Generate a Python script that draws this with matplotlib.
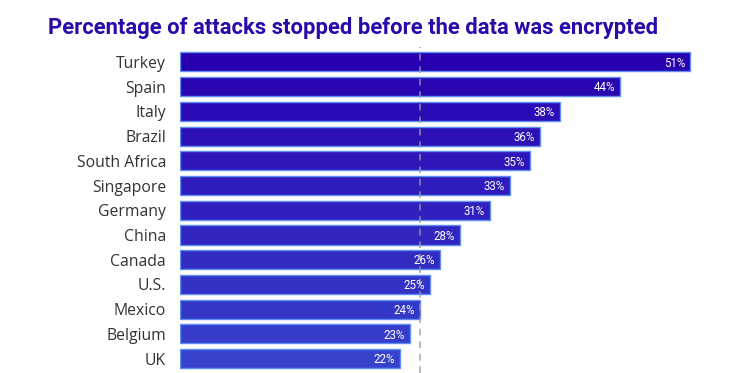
import matplotlib.pyplot as plt
import matplotlib.colors as mcolors
import numpy as np

countries = ["Turkey", "Spain", "Italy", "Brazil", "South Africa", "Singapore",
             "Germany", "China", "Canada", "U.S.", "Mexico", "Belgium", "UK"]
values = [51, 44, 38, 36, 35, 33, 31, 28, 26, 25, 24, 23, 22]
avg_value = 24

fig = plt.figure(figsize=(7.37, 3.73), dpi=100)
ax = fig.add_axes([180 / 737, 0 / 373, 540 / 737, 326 / 373])

# colour shifts from deep violet at the top to brighter blue at the bottom
top_col = np.array(mcolors.to_rgb("#2900b0"))
bot_col = np.array(mcolors.to_rgb("#3742cc"))
n = len(values)
ypos = np.arange(n)
for i, (c, v) in enumerate(zip(countries, values)):
    t = i / (n - 1)
    col = top_col * (1 - t) + bot_col * t
    ax.barh(i, v, height=0.77, color=col, edgecolor="#5d8df5", linewidth=1.0, zorder=2)
    ax.text(v - 0.5, i + 0.05, f"{v}%", color="white", ha="right", va="center",
            fontsize=8.3, family="Roboto", zorder=4)

ax.axvline(avg_value, color="#9a9aa8", linestyle=(0, (4, 3.5)), linewidth=1.2,
           alpha=0.8, zorder=3)

ax.set_yticks(ypos)
ax.set_yticklabels(countries, fontsize=11.3, color="#333333", family="Open Sans")
ax.tick_params(axis="y", length=0, pad=10)
ax.set_xticks([])
ax.set_xlim(0, 54)
ax.set_ylim(n - 0.5 + 0.08, -0.5 - 0.1)
for s in ax.spines.values():
    s.set_visible(False)

fig.text(48 / 737, 1 - 28 / 373, "Percentage of attacks stopped before the data was encrypted",
         fontsize=15.8, fontweight="bold", color="#2a0aa8", family="Roboto",
         ha="left", va="center")

fig.savefig("out.png", dpi=100)
